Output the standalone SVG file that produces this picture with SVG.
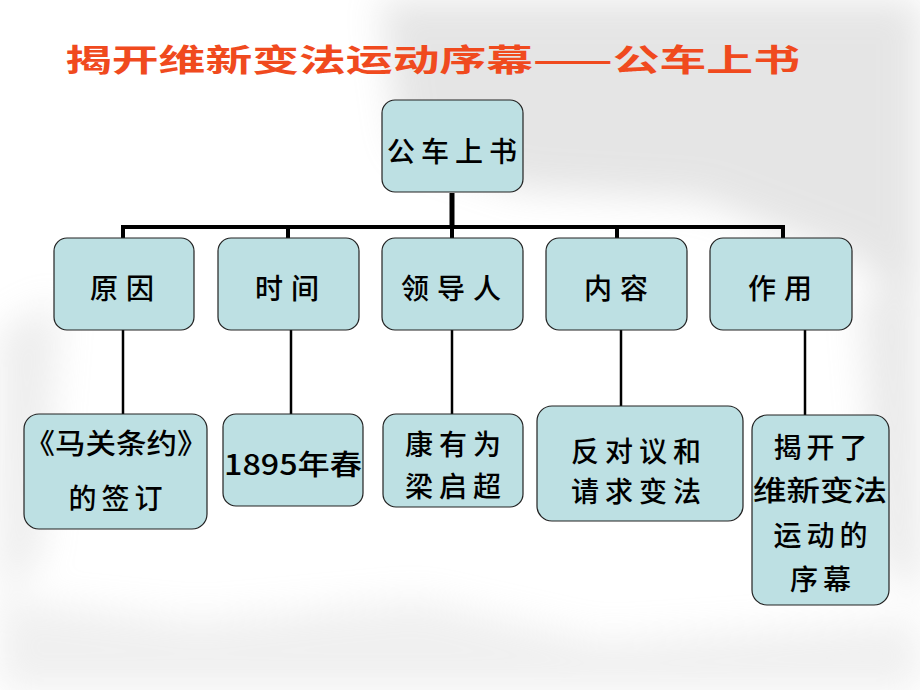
<svg xmlns="http://www.w3.org/2000/svg" width="920" height="690" viewBox="0 0 920 690">
<style>
.box{fill:#BDE0E3;stroke:#222;stroke-width:1.2}
.t{font-family:"Noto Sans CJK SC","Noto Sans",sans-serif;font-size:28px;font-weight:500;fill:#000;text-anchor:middle;dominant-baseline:central}
.title{font-family:"Noto Sans CJK SC","Noto Sans",sans-serif;font-size:31px;font-weight:bold;fill:#F04A1E}
.bar{stroke:#000;fill:none}
</style>
<defs>
<filter id="blur" x="-20%" y="-20%" width="140%" height="140%"><feGaussianBlur stdDeviation="18"/></filter>
</defs>
<rect width="920" height="690" fill="#fff"/>
<g id="background" filter="url(#blur)" opacity="0.25">
<path d="M380 0 L920 0 L920 330 L860 260 L700 200 L520 190 L400 150 Z" fill="#9a9a9a"/>
<path d="M0 330 L60 300 L40 560 L0 600 Z" fill="#b8b8b8"/>
<path d="M0 600 L200 620 L420 600 L600 640 L920 620 L920 690 L0 690 Z" fill="#c4c4c4"/>
<path d="M860 300 L920 280 L920 600 L880 560 Z" fill="#aaaaaa"/>
</g>
<text class="title" x="65" y="71" textLength="735" lengthAdjust="spacingAndGlyphs">揭开维新变法运动序幕——公车上书</text>
<g id="connectors">
<line class="bar" x1="452" y1="193" x2="452" y2="229" stroke-width="5"/>
<line class="bar" x1="121" y1="227" x2="785" y2="227" stroke-width="4"/>
<line class="bar" x1="123" y1="225" x2="123" y2="238" stroke-width="4"/>
<line class="bar" x1="288" y1="225" x2="288" y2="238" stroke-width="4"/>
<line class="bar" x1="452" y1="225" x2="452" y2="238" stroke-width="4"/>
<line class="bar" x1="617" y1="225" x2="617" y2="238" stroke-width="4"/>
<line class="bar" x1="783" y1="225" x2="783" y2="238" stroke-width="4"/>
<line class="bar" x1="123" y1="330" x2="123" y2="414" stroke-width="2.5"/>
<line class="bar" x1="291" y1="330" x2="291" y2="414" stroke-width="2.5"/>
<line class="bar" x1="452" y1="330" x2="452" y2="414" stroke-width="2.5"/>
<line class="bar" x1="621" y1="330" x2="621" y2="406" stroke-width="2.5"/>
<line class="bar" x1="805" y1="330" x2="805" y2="415" stroke-width="2.5"/>
</g>
<g id="root"><rect class="box" x="382" y="100" width="141" height="92" rx="13"/><text class="t" x="455" y="150" letter-spacing="6">公车上书</text></g>
<g id="yuanyin"><rect class="box" x="54" y="238" width="140" height="92" rx="13"/><text class="t" x="126" y="287" letter-spacing="8">原因</text></g>
<g id="shijian"><rect class="box" x="218" y="238" width="141" height="92" rx="13"/><text class="t" x="291" y="287" letter-spacing="8">时间</text></g>
<g id="lingdaoren"><rect class="box" x="382" y="238" width="141" height="92" rx="13"/><text class="t" x="455" y="287" letter-spacing="8">领导人</text></g>
<g id="neirong"><rect class="box" x="546" y="238" width="141" height="92" rx="13"/><text class="t" x="620" y="287" letter-spacing="8">内容</text></g>
<g id="zuoyong"><rect class="box" x="710" y="238" width="142" height="92" rx="13"/><text class="t" x="784" y="287" letter-spacing="8">作用</text></g>
<g id="maguan"><rect class="box" x="24" y="414" width="183" height="115" rx="15"/><text class="t" x="116" y="442" textLength="183" lengthAdjust="spacingAndGlyphs">《马关条约》</text><text class="t" x="118" y="497" letter-spacing="5">的签订</text></g>
<g id="year"><rect class="box" x="223" y="414" width="140" height="92" rx="13"/><text class="t" x="293" y="463" textLength="138" lengthAdjust="spacingAndGlyphs">1895年春</text></g>
<g id="leaders"><rect class="box" x="383" y="414" width="140" height="93" rx="13"/><text class="t" x="456" y="443" letter-spacing="6">康有为</text><text class="t" x="456" y="485" letter-spacing="6">梁启超</text></g>
<g id="content"><rect class="box" x="537" y="406" width="206" height="115" rx="15"/><text class="t" x="639" y="450" letter-spacing="6">反对议和</text><text class="t" x="639" y="490" letter-spacing="6">请求变法</text></g>
<g id="effect"><rect class="box" x="752" y="415" width="137" height="190" rx="15"/><text class="t" x="823" y="446" letter-spacing="5">揭开了</text><text class="t" x="820" y="489" textLength="134" lengthAdjust="spacingAndGlyphs">维新变法</text><text class="t" x="823" y="534" letter-spacing="5">运动的</text><text class="t" x="823" y="578" letter-spacing="5">序幕</text></g>
</svg>
